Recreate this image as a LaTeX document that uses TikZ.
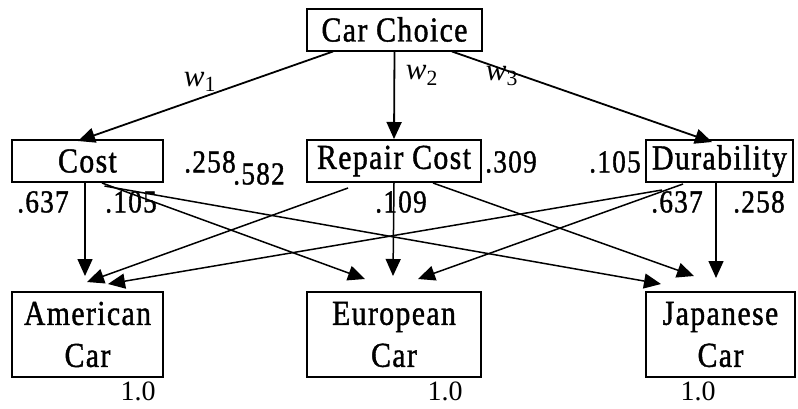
\documentclass[tikz,border=0pt]{standalone}
\usepackage{fontspec}
\setmainfont{Liberation Serif}
\newfontfamily\boxfont[FakeStretch=0.85, FakeBold=1.2, LetterSpace=4]{Liberation Serif}
\usepackage{tikz}
\usetikzlibrary{positioning,arrows.meta}
\tikzstyle{choice}=[rectangle, draw=black, line width=2pt, inner sep=0pt, align=center, font=\boxfont\fontsize{35}{42}\selectfont]
\tikzstyle{weight}=[inner sep=0pt, font=\boxfont\fontsize{32}{32}\selectfont]
\tikzstyle{wLabel}=[inner sep=0pt, font=\fontsize{31}{31}\selectfont]
\tikzstyle{topChan}=[-{Triangle[length=17pt,width=15pt]}, line width=1.8pt, black]
\tikzstyle{altChan}=[-{Triangle[length=17pt,width=15pt]}, line width=1.5pt, black]

\begin{document}
\begin{tikzpicture}[x=1pt, y=-1pt]
        \useasboundingbox (0,0) rectangle (798,408);
        \node [style=choice, minimum width=175pt, minimum height=42pt] (CarChoice) at (394.5, 29.5) {Car Choice};
        \node [style=choice, minimum width=151pt, minimum height=42pt] (Cost) at (87.5, 161) {Cost};
        \node [style=choice, minimum width=174pt, minimum height=42pt] (RepairCost) at (394, 161) {Repair Cost};
        \node [style=choice, minimum width=147pt, minimum height=42pt] (Durability) at (719.5, 161) {Durability};
        \node [style=choice, minimum width=151pt, minimum height=85pt] (American) at (87.5, 334.5) {American\\Car};
        \node [style=choice, minimum width=174pt, minimum height=85pt] (European) at (394, 334.5) {European\\Car};
        \node [style=choice, minimum width=149pt, minimum height=85pt] (Japanese) at (720.5, 334.5) {Japanese\\Car};

        %Goal to criteria
        \draw [style={topChan}] ([xshift=-61.5pt]CarChoice.south) -- ([xshift=-9.5pt,yshift=-2pt]Cost.north);
        \draw [style={topChan}] (CarChoice.south) -- (RepairCost.north);
        \draw [style={topChan}] ([xshift=57.5pt]CarChoice.south) -- ([xshift=-7.5pt,yshift=-3pt]Durability.north);
        \node [style=wLabel] (w1) at (200, 82) {\textit{w}\textsubscript{1}};
        \node [style=wLabel] (w2) at (422, 75) {\textit{w}\textsubscript{2}};
        \node [style=wLabel] (w3) at (502, 76) {\textit{w}\textsubscript{3}};

        % Criteria to alternatives
        \draw [style={altChan}] ([xshift=-2.5pt]Cost.south) -- ([xshift=-2.5pt,yshift=15pt]American.north);
        \draw [style={altChan}] ([xshift=14.5pt]Cost.south) -- ([xshift=-29pt,yshift=12pt]European.north);
        \draw [style={altChan}] ([xshift=17pt,yshift=-3pt]Cost.south) -- ([xshift=-59.5pt,yshift=7pt]Japanese.north);
        \draw [style={altChan}] ([xshift=-46pt,yshift=-5pt]RepairCost.south) -- ([xshift=-0.5pt,yshift=9pt]American.north);
        \draw [style={altChan}] (RepairCost.south) -- ([xshift=-1pt,yshift=15pt]European.north);
        \draw [style={altChan}] ([xshift=39pt]RepairCost.south) -- ([xshift=-26.5pt,yshift=15pt]Japanese.north);
        \draw [style={altChan}] ([xshift=-57.5pt,yshift=-7pt]Durability.south) -- ([xshift=20.5pt,yshift=7pt]American.north);
        \draw [style={altChan}] ([xshift=-36.5pt,yshift=-1pt]Durability.south) -- ([xshift=24pt,yshift=12pt]European.north);
        \draw [style={altChan}] ([xshift=-3.5pt]Durability.south) -- ([xshift=-4.5pt,yshift=13pt]Japanese.north);

        % Weights
        \node [style=weight] (costA) at (43, 202) {.637};
        \node [style=weight] (costB) at (131, 202) {.105};
        \node [style=weight] (costC) at (210, 162) {.258};
        \node [style=weight] (repA) at (259, 174) {.582};
        \node [style=weight] (repB) at (401, 202) {.109};
        \node [style=weight] (repC) at (511, 162) {.309};
        \node [style=weight] (durA) at (615, 162) {.105};
        \node [style=weight] (durB) at (677, 202) {.637};
        \node [style=weight] (durC) at (759, 202) {.258};

        \node [style=wLabel, font=\fontsize{28}{28}\selectfont] (oneA) at (138, 391) {1.0};
        \node [style=wLabel, font=\fontsize{28}{28}\selectfont] (oneE) at (445, 391) {1.0};
        \node [style=wLabel, font=\fontsize{28}{28}\selectfont] (oneJ) at (698, 391) {1.0};
    \end{tikzpicture}
\end{document}
